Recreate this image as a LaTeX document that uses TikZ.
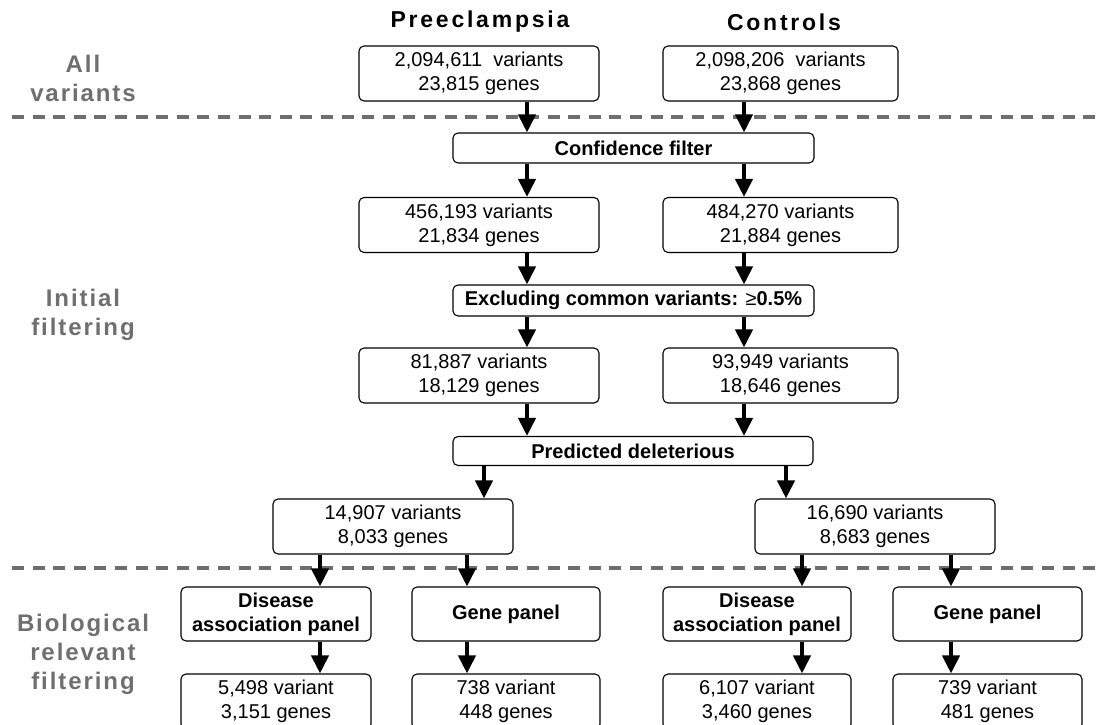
\documentclass[tikz,border=0pt]{standalone}
\usepackage{fontspec}
\setmainfont{Liberation Sans}
\usetikzlibrary{arrows.meta,positioning}
\definecolor{sepgray}{HTML}{6E6E6E}
\definecolor{labgray}{HTML}{6F6F6F}
\tikzset{box/.style={draw, line width=1.1pt, rounded corners=5pt, align=center, inner sep=0pt, font=\fontsize{20}{24}\selectfont}, filt/.style={box, font=\fontsize{20}{24}\selectfont\bfseries}, flow/.style={-{Triangle[length=18pt,width=17pt]}, line width=4pt}, sep/.style={line width=4pt, color=sepgray, dash pattern=on 12pt off 8.6pt}, hd/.style={font=\fontsize{23}{27}\selectfont\bfseries\addfontfeatures{LetterSpace=12}}, side/.style={align=center, text=labgray, font=\fontsize{24}{29}\selectfont\bfseries\addfontfeatures{LetterSpace=8}}}

\begin{document}
\begin{tikzpicture}[x=1pt,y=-1pt]
\useasboundingbox (0,0) rectangle (1097,725);
\clip (0,0) rectangle (1097,725);
\node[hd] (hpe) at (480,22) {Preeclampsia};
\node[hd] (hct) at (784,22) {Controls};
\node[side] (lall) at (83,78) {All\\variants};
\node[side] (lini) at (83,315) {Initial\\filtering};
\node[side] (lbio) at (83,654) {Biological\\relevant\\filtering};
\draw[sep] (12,117) -- (1097,117);
\draw[sep] (12,568) -- (1097,568);
% upper part
\node[box, minimum width=240pt, minimum height=55pt] (pe0) at (479,73.5) {2,094,611~ variants\\23,815 genes};
\node[box, minimum width=235pt, minimum height=55pt] (ct0) at (780.5,73.5) {2,098,206~ variants\\23,868 genes};
\node[filt, minimum width=361pt, minimum height=30pt] (conf) at (633.5,148) {Confidence filter};
\node[box, minimum width=240pt, minimum height=55pt] (pe1) at (479,225) {456,193 variants\\21,834 genes};
\node[box, minimum width=235pt, minimum height=55pt] (ct1) at (780.5,225) {484,270 variants\\21,884 genes};
\node[filt, minimum width=361pt, minimum height=31pt] (excl) at (633.5,300.5) {Excluding common variants: {\mdseries ≥}0.5\%};
\node[box, minimum width=240pt, minimum height=55pt] (pe2) at (479,375.5) {81,887 variants\\18,129 genes};
\node[box, minimum width=235pt, minimum height=55pt] (ct2) at (780.5,375.5) {93,949 variants\\18,646 genes};
\node[filt, minimum width=360pt, minimum height=29pt] (pred) at (633,451) {Predicted deleterious};
\node[box, minimum width=240pt, minimum height=55pt] (pe3) at (393,526.5) {14,907 variants\\8,033 genes};
\node[box, minimum width=240pt, minimum height=55pt] (ct3) at (875,526.5) {16,690 variants\\8,683 genes};
% panels
\node[filt, minimum width=190pt, minimum height=54pt] (dpe) at (276,614) {Disease\\association panel};
\node[filt, minimum width=188pt, minimum height=54pt] (gpe) at (506,614) {Gene panel};
\node[filt, minimum width=188pt, minimum height=54pt] (dct) at (757,614) {Disease\\association panel};
\node[filt, minimum width=189pt, minimum height=54pt] (gct) at (987.5,614) {Gene panel};
\node[box, minimum width=190pt, minimum height=55pt] (rdpe) at (276,701.5) {5,498 variant\\3,151 genes};
\node[box, minimum width=188pt, minimum height=55pt] (rgpe) at (506,701.5) {738 variant\\448 genes};
\node[box, minimum width=188pt, minimum height=55pt] (rdct) at (757,701.5) {6,107 variant\\3,460 genes};
\node[box, minimum width=189pt, minimum height=55pt] (rgct) at (987.5,701.5) {739 variant\\481 genes};
% arrow columns
\coordinate (xa) at (527,0); \coordinate (xb) at (744,0); \coordinate (xc) at (484,0); \coordinate (xd) at (786,0);
\coordinate (xe) at (320,0); \coordinate (xf) at (467,0); \coordinate (xg) at (802,0); \coordinate (xh) at (951,0);
\foreach \a/\b in {pe0/conf,conf/pe1,pe1/excl,excl/pe2,pe2/pred} \draw[flow] (\a.south -| xa) -- (\b.north -| xa);
\foreach \a/\b in {ct0/conf,conf/ct1,ct1/excl,excl/ct2,ct2/pred} \draw[flow] (\a.south -| xb) -- (\b.north -| xb);
\draw[flow] (pred.south -| xc) -- (pe3.north -| xc);
\draw[flow] (pred.south -| xd) -- (ct3.north -| xd);
\foreach \a/\b/\c in {pe3/dpe/xe,dpe/rdpe/xe,pe3/gpe/xf,gpe/rgpe/xf,ct3/dct/xg,dct/rdct/xg,ct3/gct/xh,gct/rgct/xh} \draw[flow] (\a.south -| \c) -- (\b.north -| \c);
\end{tikzpicture}
\end{document}
